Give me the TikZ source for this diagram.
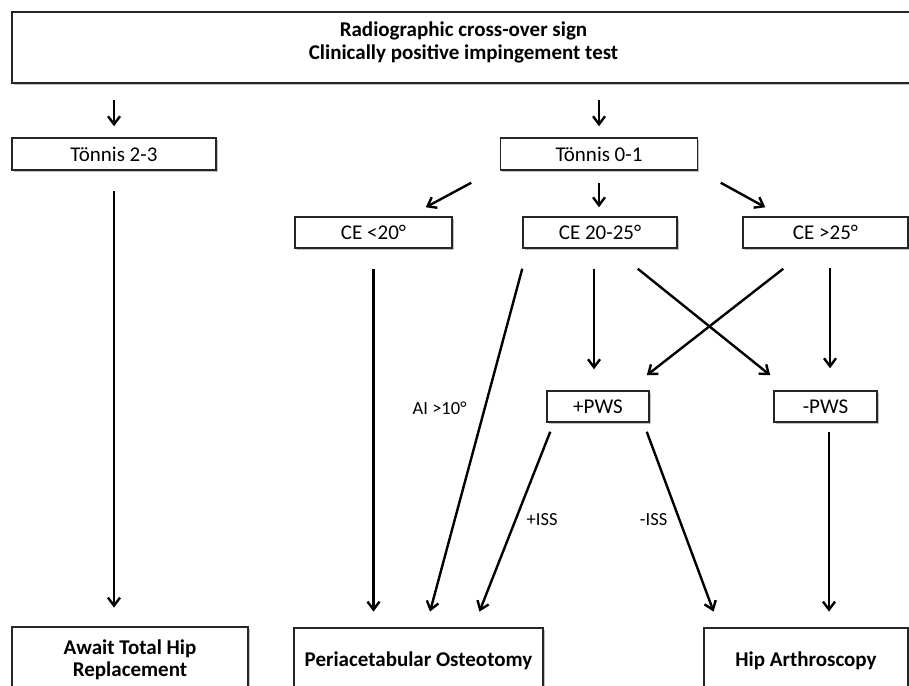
\documentclass[tikz,border=0pt]{standalone}
\usepackage{fontspec}
\setmainfont{Carlito}
\usetikzlibrary{arrows.meta,calc,shadows}
\begin{document}
\begin{tikzpicture}[x=1pt,y=-1pt,
 box/.style={draw=black!85, line width=1.5pt, fill=white, minimum height=31pt, inner sep=0pt,
   font=\fontsize{21}{24}\selectfont,
   drop shadow={shadow xshift=1.5pt, shadow yshift=-1.5pt, fill=black!40, opacity=0.6}},
 bigbox/.style={box, line width=2.8pt, font=\fontsize{21}{22.5}\selectfont\bfseries, align=center},
 txt/.style={font=\fontsize{21}{23}\selectfont\bfseries, align=center, inner sep=0pt},
 arr/.style={line width=2.4pt, -{Straight Barb[length=8pt,width=12pt,line width=2.4pt]}},
 lab/.style={font=\fontsize{18.5}{20}\selectfont, inner sep=0pt}]
\fill[white] (0,0) rectangle (909,685);
\useasboundingbox (0,0) rectangle (909,685);

\node[bigbox, minimum width=903pt, minimum height=71pt] (top) at (463.5,47.5) {};
\node[txt] (toptext) at (463.5,42) {Radiographic cross-over sign\\Clinically positive impingement test};
\node[box, minimum width=204pt, minimum height=32pt] (t23) at (114,154) {Tönnis 2-3};
\node[box, minimum width=197pt, minimum height=32pt] (t01) at (599,154) {Tönnis 0-1};
\node[box, minimum width=157pt] (ce20) at (373.5,232.5) {CE <20°};
\node[box, minimum width=154pt] (ce2025) at (600,232.5) {CE 20-25°};
\node[box, minimum width=165pt] (ce25) at (825.5,232.5) {CE >25°};
\node[box, minimum width=102pt] (ppws) at (598,406.5) {+PWS};
\node[box, minimum width=103pt] (mpws) at (825.5,406.5) {-PWS};
\node[bigbox, minimum width=236pt, minimum height=66pt] (await) at (130,660) {Await Total Hip\\Replacement};
\node[bigbox, minimum width=249pt, minimum height=66pt] (pao) at (418.5,661) {Periacetabular Osteotomy};
\node[bigbox, minimum width=204pt, minimum height=66pt] (ha) at (806,661) {Hip Arthroscopy};

\draw[arr, shorten <=16pt, shorten >=11pt] (top.south -| t23.north) -- (t23.north);
\draw[arr, shorten <=16pt, shorten >=11pt] (top.south -| t01.north) -- (t01.north);
\draw[arr] ($(t01.south west)+(-28.5,12)$) -- ($(ce20.north east)+(-27,-9)$);
\draw[arr, shorten <=12pt, shorten >=9pt] (t01.south) -- (t01.south |- ce2025.north);
\draw[arr] ($(t01.south east)+(22.5,12)$) -- ($(ce25.north west)+(23,-9)$);
\draw[arr, shorten <=20pt, shorten >=18pt] (t23.south) -- (t23.south |- await.north);
\draw[arr, shorten <=20pt, shorten >=15pt] (ce20.south) -- (ce20.south |- pao.north);
\draw[arr] ($(ce2025.south west)+(0,20)$) -- node[lab, pos=0.407, anchor=east, xshift=-17pt]{AI >10°} ($(pao.north)+(11.5,-15)$);
\draw[arr, shorten <=20pt, shorten >=21pt] ($(ce2025.south)+(-6,0)$) -- ($(ce2025.south |- ppws.north)+(-6,0)$);
\draw[arr] ($(ce2025.south east)+(-40,20)$) -- ($(mpws.north west)+(-3,-15)$);
\draw[arr] ($(ce25.south west)+(41,20)$) -- ($(ppws.north east)+(-3,-15)$);
\draw[arr, shorten <=19pt, shorten >=22pt] ($(ce25.south)+(4.5,0)$) -- ($(ce25.south |- mpws.north)+(4.5,0)$);
\draw[arr] ($(ppws.south west)+(4,9)$) -- node[lab, pos=0.49, anchor=west, xshift=10pt]{+ISS} ($(pao.north east)+(-65,-15)$);
\draw[arr] ($(ppws.south east)+(-3,9)$) -- node[lab, pos=0.49, anchor=east, xshift=-11pt]{-ISS} ($(ha.north west)+(11,-15)$);
\draw[arr, shorten <=9pt, shorten >=15pt] ($(mpws.south)+(3.5,0)$) -- ($(mpws.south |- ha.north)+(3.5,0)$);
\end{tikzpicture}
\end{document}
